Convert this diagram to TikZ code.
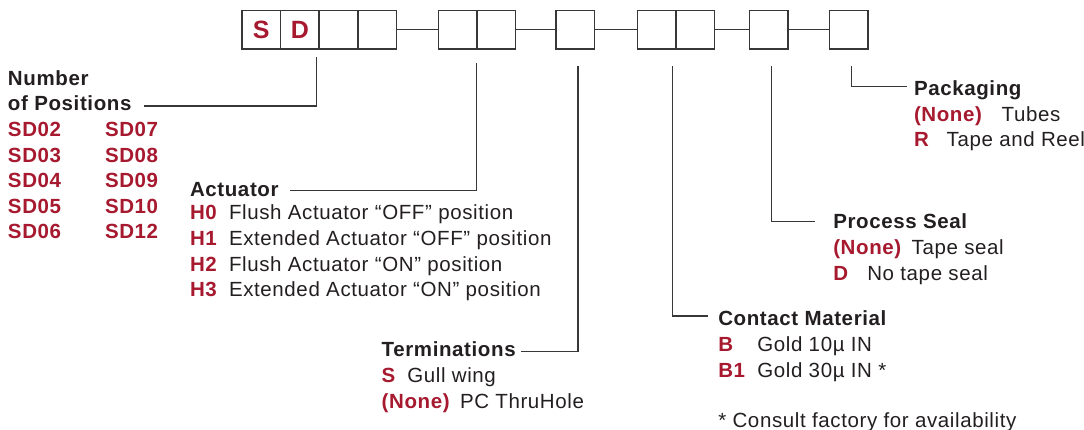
\documentclass[tikz,border=0pt]{standalone}
\usepackage{fontspec}
\setmainfont{Liberation Sans}[LetterSpace=3]
\usetikzlibrary{positioning}

\definecolor{codered}{RGB}{166,25,46}
\definecolor{ink}{RGB}{35,31,32}
\definecolor{rulegray}{RGB}{55,55,55}

\tikzset{
  digit/.style={draw=rulegray, line width=1.5pt, minimum size=38.6pt, inner sep=0pt,
    outer sep=0pt, text=codered, font=\bfseries\fontsize{25}{25}\selectfont},
  leader/.style={draw=rulegray, line width=1.2pt},
  txt/.style={anchor=base west, inner sep=0pt, outer sep=0pt, text=ink,
    font=\fontsize{20.5}{24}\selectfont},
  head/.style={txt, font=\bfseries\fontsize{20.5}{24}\selectfont},
  code/.style={txt, text=codered, font=\bfseries\fontsize{20.5}{24}\selectfont}
}

\begin{document}
\begin{tikzpicture}[x=1pt, y=-1pt]
  \useasboundingbox (0,0) rectangle (1084,430);

  % part number boxes
  \node[digit] (b1) at (261.3,29.8) {S};
  \node[digit, right=0pt of b1] (b2) {D};
  \node[digit, right=0pt of b2] (b3) {};
  \node[digit, right=0pt of b3] (b4) {};
  \node[digit, right=42pt of b4] (b5) {};
  \node[digit, right=0pt of b5] (b6) {};
  \node[digit, right=40.5pt of b6] (b7) {};
  \node[digit, right=42.7pt of b7] (b8) {};
  \node[digit, right=0pt of b8] (b9) {};
  \node[digit, right=35pt of b9] (b10) {};
  \node[digit, right=41.4pt of b10] (b11) {};

  \draw[leader] (b4.east) -- (b5.west);
  \draw[leader] (b6.east) -- (b7.west);
  \draw[leader] (b7.east) -- (b8.west);
  \draw[leader] (b9.east) -- (b10.west);
  \draw[leader] (b10.east) -- (b11.west);

  % number of positions
  \node[head] (posHead1) at (8,85.5) {Number};
  \node[head] (posHead2) at (8,110.7) {of Positions};
  \foreach \a/\b [count=\i from 0] in {02/07,03/08,04/09,05/10,06/12} {
    \node[code] (sdL\i) at (8,136.7+25.45*\i) {SD\a};
    \node[code] (sdR\i) at (105,136.7+25.45*\i) {SD\b};
  }
  \coordinate (posTop) at (316.7,57);
  \coordinate (posEnd) at (144,106);
  \draw[leader] (posTop) |- (posEnd);

  % actuator
  \node[head] (actHead) at (190,196.7) {Actuator};
  \foreach \c/\d [count=\i from 0] in {H0/Flush Actuator “OFF” position,
      H1/Extended Actuator “OFF” position, H2/Flush Actuator “ON” position,
      H3/Extended Actuator “ON” position} {
    \node[code] (actCode\i) at (190,220+25.6*\i) {\c};
    \node[txt] (actText\i) at (229,220+25.6*\i) {\d};
  }
  \coordinate (actTop) at (476.7,63);
  \coordinate (actEnd) at (290,190.7);
  \draw[leader] (actTop) |- (actEnd);

  % terminations
  \node[head] (termHead) at (381.7,356.7) {Terminations};
  \node[code] (termCode1) at (381.7,382.5) {S};
  \node[txt] (termText1) at (407.3,382.5) {Gull wing};
  \node[code] (termCode2) at (381.7,408) {(None)};
  \node[txt] (termText2) at (460,408) {PC ThruHole};
  \coordinate (termTop) at (578,66);
  \coordinate (termEnd) at (520.7,351.7);
  \draw[leader] (termTop) |- (termEnd);

  % contact material
  \node[head] (contHead) at (718.3,326) {Contact Material};
  \node[code] (contCode1) at (718.3,351.5) {B};
  \node[txt] (contText1) at (757.3,351.5) {Gold 10µ IN};
  \node[code] (contCode2) at (718.3,377.3) {B1};
  \node[txt] (contText2) at (757.3,377.3) {Gold 30µ IN *};
  \node[txt] (contNote) at (718.3,427.5) {* Consult factory for availability};
  \coordinate (contTop) at (672.3,66);
  \coordinate (contEnd) at (708,316);
  \draw[leader] (contTop) |- (contEnd);

  % process seal
  \node[head] (sealHead) at (833.3,228.3) {Process Seal};
  \node[code] (sealCode1) at (833.3,254.3) {(None)};
  \node[txt] (sealText1) at (911.7,254.3) {Tape seal};
  \node[code] (sealCode2) at (833.3,280) {D};
  \node[txt] (sealText2) at (867.3,280) {No tape seal};
  \coordinate (sealTop) at (771.3,66);
  \coordinate (sealEnd) at (815,221.7);
  \draw[leader] (sealTop) |- (sealEnd);

  % packaging
  \node[head] (packHead) at (914,95.5) {Packaging};
  \node[code] (packCode1) at (914,121.3) {(None)};
  \node[txt] (packText1) at (1001.7,121.3) {Tubes};
  \node[code] (packCode2) at (914,147) {R};
  \node[txt] (packText2) at (946.7,147) {Tape and Reel};
  \coordinate (packTop) at (851.7,66);
  \coordinate (packEnd) at (906.7,86.7);
  \draw[leader] (packTop) |- (packEnd);
\end{tikzpicture}
\end{document}
